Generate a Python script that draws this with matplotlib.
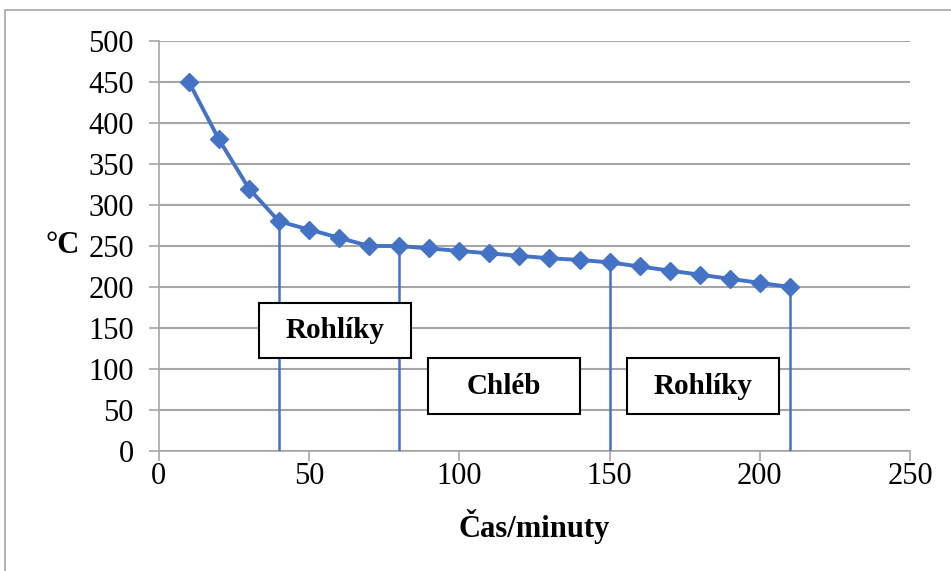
import matplotlib.pyplot as plt
from matplotlib.patches import Rectangle

# temperature of the oven over time
minutes = [10, 20, 30, 40, 50, 60, 70, 80, 90, 100, 110, 120, 130, 140, 150,
           160, 170, 180, 190, 200, 210]
temps = [450, 380, 320, 280, 270, 260, 250, 250, 247, 244, 241, 238, 235, 233,
         230, 225, 220, 215, 210, 205, 200]
# times where the vertical markers are drawn
mark_times = [40, 80, 150, 210]
# label boxes: (text, x0, x1, y0, y1) in data units
box_labels = ['Rohlíky', 'Chléb', 'Rohlíky']
box_x = [(33.3, 83.9), (89.7, 140.1), (155.9, 206.3)]
box_y = [(113, 181), (45, 113), (45, 113)]

blue = '#4472C4'
grey = '#A6A6A6'
plt.rcParams['font.family'] = ['Liberation Serif', 'DejaVu Serif']

fig = plt.figure(figsize=(9.51, 5.71), dpi=100)
ax = fig.add_axes([0.167, 0.2102, 0.790, 0.718])

# outer chart border (only top and left are visible in the crop)
fig.add_artist(Rectangle((5 / 951, -0.1), 1.2, 1 - 10 / 571 + 0.1,
                         transform=fig.transFigure, fill=False,
                         edgecolor=grey, linewidth=1.2))

ax.plot(minutes, temps, color=blue, linewidth=2.8, marker='D', markersize=9,
        zorder=4, clip_on=False)
for t in mark_times:
    ax.plot([t, t], [0, temps[minutes.index(t)]], color=blue, linewidth=1.8,
            zorder=3)

for text, (x0, x1), (y0, y1) in zip(box_labels, box_x, box_y):
    ax.add_patch(Rectangle((x0, y0), x1 - x0, y1 - y0, facecolor='white',
                           edgecolor='black', linewidth=1.5, zorder=5))
    ax.text((x0 + x1) / 2, (y0 + y1) / 2, text, ha='center', va='center',
            fontsize=21, fontweight='bold', zorder=6)

ax.set_xlim(0, 250)
ax.set_ylim(0, 500)
ax.set_xticks(range(0, 251, 50))
ax.set_yticks(range(0, 501, 50))
ax.grid(axis='y', color=grey, linewidth=1.5)
ax.set_axisbelow(True)
for side in ['top', 'right']:
    ax.spines[side].set_visible(False)
for side in ['left', 'bottom']:
    ax.spines[side].set_color(grey)
    ax.spines[side].set_linewidth(1.2)
ax.tick_params(axis='both', colors=grey, labelcolor='black', labelsize=22,
               length=7, width=1.2)
ax.tick_params(axis='y', pad=11)
ax.tick_params(axis='x', pad=1)

ax.set_xlabel('Čas/minuty', fontsize=22, fontweight='bold', labelpad=13)
ax.set_ylabel('°C', fontsize=22, fontweight='bold', rotation=0,
              ha='center', va='center')
ax.yaxis.set_label_coords(-0.128, 0.5)

fig.savefig('out.png', dpi=100)
